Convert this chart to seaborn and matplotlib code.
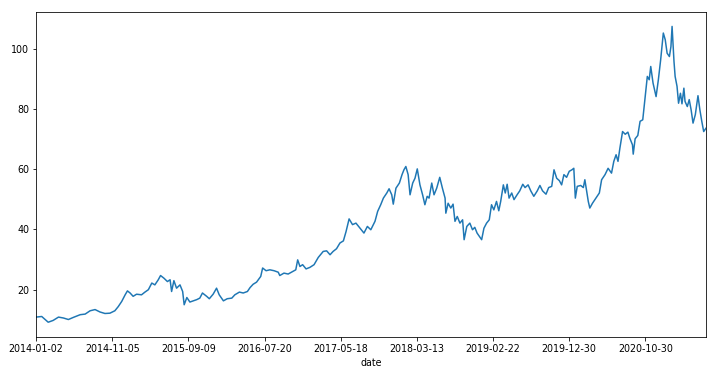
import numpy as np
import pandas as pd
import matplotlib
matplotlib.use("Agg")
import matplotlib.pyplot as plt
import seaborn as sns

# trading-session number (0 = 2014-01-02) and closing price
day = [0, 15, 32, 45, 59, 72, 85, 98, 116, 129, 142, 155, 168, 181, 194, 207,
       216, 225, 234, 240, 247, 255, 264, 277, 286, 295, 304, 312, 321, 327,
       336, 345, 352, 356, 362, 369, 378, 385, 389, 396, 404, 413, 422, 430,
       437, 448, 455, 465, 474, 481, 492, 502, 514, 522, 534, 544, 555, 562,
       570, 579, 590, 595, 604, 614, 625, 636, 640, 651, 662, 675, 682, 687,
       693, 700, 709, 719, 730, 741, 754, 763, 772, 780, 789, 798, 807, 814,
       822, 831, 840, 849, 861, 870, 879, 890, 897, 905, 912, 921, 927, 934,
       938, 945, 954, 961, 966, 971, 977, 982, 989, 995, 1001, 1008, 1015,
       1021, 1027, 1032, 1039, 1045, 1052, 1060, 1067, 1074, 1076, 1082, 1089,
       1095, 1100, 1106, 1113, 1120, 1124, 1131, 1139, 1146, 1152, 1158, 1166,
       1170, 1176, 1183, 1190, 1196, 1202, 1209, 1215, 1220, 1227, 1232, 1237,
       1242, 1249, 1255, 1263, 1270, 1278, 1284, 1292, 1299, 1307, 1316, 1323,
       1330, 1339, 1346, 1354, 1360, 1367, 1374, 1380, 1386, 1393, 1400, 1407,
       1412, 1416, 1421, 1430, 1437, 1441, 1445, 1450, 1454, 1461, 1470, 1479,
       1485, 1494, 1502, 1511, 1517, 1523, 1528, 1533, 1540, 1547, 1554, 1559,
       1566, 1568, 1573, 1580, 1586, 1593, 1599, 1605, 1610, 1614, 1620, 1628,
       1634, 1640, 1647, 1652, 1657, 1663, 1667, 1670, 1675, 1678, 1683, 1687,
       1692, 1696, 1701, 1704, 1710, 1715, 1720, 1725, 1731, 1738, 1743, 1748,
       1753, 1759]

price = [10.9, 11.1, 9.2, 9.8, 10.9, 10.6, 10.1, 10.8, 11.7, 11.9, 13.0, 13.4,
         12.6, 12.1, 12.2, 13.0, 14.4, 16.1, 18.3, 19.6, 18.9, 17.8, 18.5, 18.3,
         19.2, 20.0, 22.2, 21.6, 23.3, 24.7, 23.8, 22.7, 23.3, 19.4, 23.0, 20.5,
         21.6, 19.4, 15.0, 17.4, 15.9, 16.3, 16.7, 17.2, 18.9, 17.8, 17.0, 18.5,
         20.5, 18.3, 16.3, 17.0, 17.2, 18.3, 19.2, 18.9, 19.4, 20.7, 21.8, 22.5,
         24.4, 27.2, 26.3, 26.6, 26.3, 25.8, 24.7, 25.5, 25.2, 26.1, 26.6, 29.9,
         27.7, 28.3, 26.9, 27.4, 28.3, 30.7, 32.7, 32.9, 31.6, 32.7, 33.6, 35.5,
         36.2, 39.3, 43.5, 41.6, 42.1, 40.7, 38.8, 41.0, 39.9, 42.7, 46.0, 48.2,
         50.4, 52.1, 53.5, 51.5, 48.4, 53.7, 55.4, 58.2, 59.8, 60.9, 58.2, 51.5,
         55.4, 57.0, 60.1, 54.8, 51.5, 48.2, 51.0, 50.4, 55.4, 51.5, 53.7, 57.3,
         53.7, 50.4, 45.4, 48.7, 47.1, 48.4, 42.7, 44.3, 42.1, 43.2, 36.6, 41.0,
         42.1, 39.9, 40.7, 38.8, 37.3, 36.6, 40.4, 42.1, 43.2, 48.2, 46.5, 49.3,
         46.2, 49.3, 54.8, 52.1, 55.0, 50.4, 52.1, 49.9, 51.5, 52.8, 55.0, 53.9,
         54.8, 52.8, 51.0, 52.8, 54.6, 52.8, 51.7, 53.9, 54.3, 59.8, 57.0, 56.2,
         54.8, 58.2, 57.3, 59.3, 59.8, 60.3, 50.4, 54.3, 54.6, 53.9, 56.5, 53.2,
         49.3, 47.1, 48.7, 50.4, 52.1, 56.5, 58.2, 60.3, 58.7, 62.6, 64.8, 62.6,
         67.0, 72.5, 71.6, 72.3, 70.3, 68.1, 65.0, 70.1, 71.2, 75.9, 76.4, 83.6,
         90.8, 89.7, 94.1, 88.6, 84.1, 89.7, 96.3, 105.2, 103.0, 98.5, 97.4,
         100.7, 107.4, 95.8, 90.8, 87.5, 81.9, 85.2, 81.7, 86.9, 82.5, 80.8,
         83.1, 79.7, 75.3, 78.1, 84.4, 79.7, 75.9, 72.5, 73.6]

tick_days = [0, 200, 400, 600, 800, 1000, 1200, 1400, 1600]
tick_labels = ['2014-01-02', '2014-11-05', '2015-09-09', '2016-07-20',
               '2017-05-18', '2018-03-13', '2019-02-22', '2019-12-30',
               '2020-10-30']

df = pd.DataFrame({'date': day, 'close': price})

plt.rcParams['font.family'] = ['DejaVu Sans']
plt.rcParams['font.size'] = 9.5

fig = plt.figure(figsize=(716 / 72, 375 / 72), dpi=72)
ax = fig.add_axes([0.0503, 0.1013, 0.9357, 0.8677])

sns.lineplot(data=df, x='date', y='close', ax=ax, color='#1f77b4', linewidth=1.5)

ax.set_xlim(df['date'].min(), df['date'].max())
ax.set_xticks(tick_days)
ax.set_xticklabels(tick_labels)
ax.set_yticks([20, 40, 60, 80, 100])
ax.set_xlabel('date')
ax.set_ylabel('')

fig.savefig('out.png', dpi=72)
